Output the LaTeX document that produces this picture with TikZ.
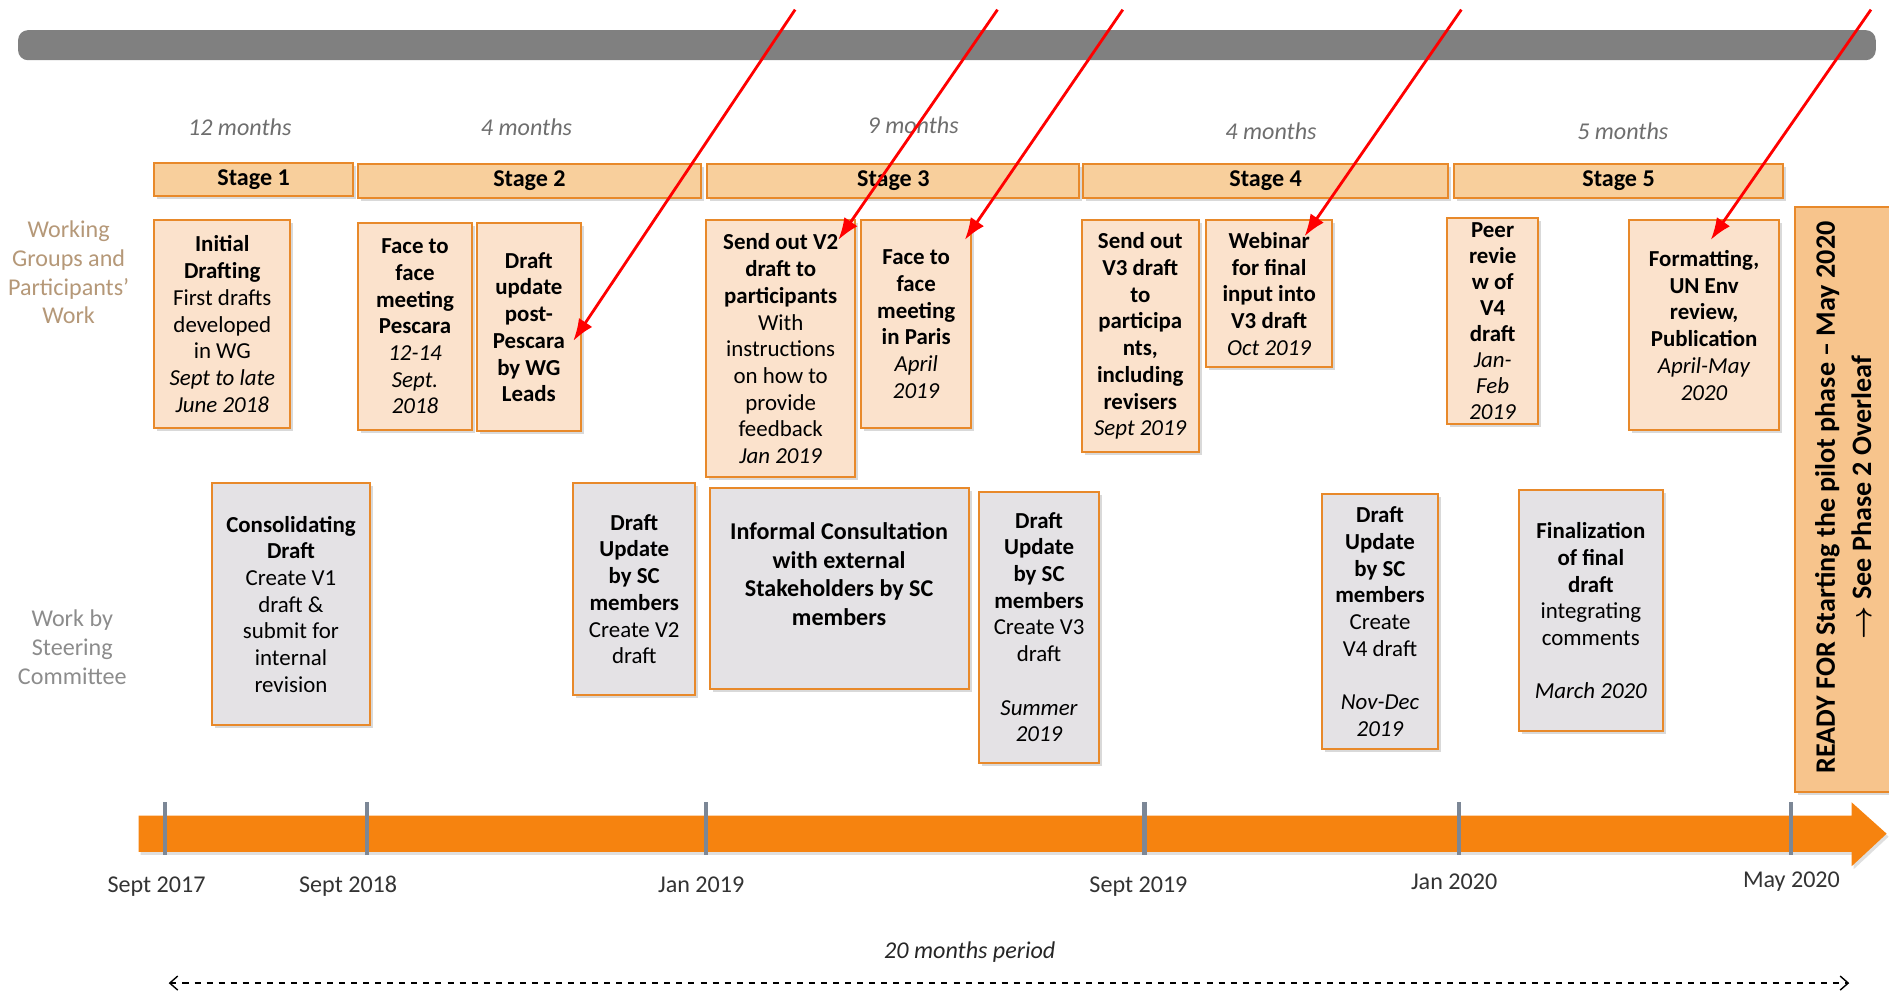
\documentclass[tikz,border=0pt]{standalone}
\usepackage{fontspec}
\setmainfont{Carlito}
\usetikzlibrary{shadows,arrows.meta}
\definecolor{wgfill}{HTML}{FBE2CC}
\definecolor{scfill}{HTML}{E4E2E5}
\definecolor{stagefill}{HTML}{F8CF9C}
\definecolor{readyfill}{HTML}{F7C48C}
\definecolor{boxline}{HTML}{E8892A}
\definecolor{tlorange}{HTML}{F6830F}
\definecolor{tickgrey}{HTML}{7C8796}
\definecolor{bargrey}{HTML}{808080}
\definecolor{wgtext}{HTML}{B59878}
\definecolor{sctext}{HTML}{8C8C8C}
\definecolor{durtext}{HTML}{6E6E6E}

\begin{document}
\begin{tikzpicture}[x=0.6pt,y=-0.6pt,
	area/.style n args={4}{at={({(#1+#3)/2},{(#2+#4)/2})},minimum width={(#3-#1)*0.6pt},minimum height={(#4-#2)*0.6pt}},
	tbox/.style={draw=boxline,line width=1pt,inner sep=0pt,align=center,font=\fontsize{11.4}{13.3}\selectfont,drop shadow={shadow xshift=1.5pt,shadow yshift=-1.5pt,opacity=.3}},
	wgbox/.style={tbox,fill=wgfill},
	scbox/.style={tbox,fill=scfill},
	stagebox/.style={tbox,fill=stagefill,font=\fontsize{12}{14}\selectfont\bfseries},
	redarrow/.style={draw=red,line width=1.4pt,-{Latex[length=11pt,width=8pt]}},
	tickmark/.style={draw=tickgrey,line width=2pt},
	durlabel/.style={text=durtext,font=\fontsize{12}{14}\selectfont\itshape},
	datelabel/.style={text=black!80,font=\fontsize{12}{14}\selectfont}]
	\useasboundingbox (0,0) rectangle (1568,825);
	% top bar
	\fill[bargrey,rounded corners=5pt] (15,25) rectangle (1557,50);
	% durations and stages
	\node[durlabel] (dur1) at (199,106) {12 months};\node[durlabel] (dur2) at (437,106) {4 months};\node[durlabel] (dur3) at (758,104) {9 months};
	\node[durlabel] (dur4) at (1055,109) {4 months};\node[durlabel] (dur5) at (1347,109) {5 months};
	\node[stagebox,area={128}{135}{293}{163}] (stage1) {Stage 1};
	\node[stagebox,area={297}{136}{582}{164}] (stage2) {Stage 2};
	\node[stagebox,area={587}{136}{896}{164}] (stage3) {Stage 3};
	\node[stagebox,area={899}{136}{1202}{164}] (stage4) {Stage 4};
	\node[stagebox,area={1207}{136}{1480}{164}] (stage5) {Stage 5};
	% row labels
	\node[text=wgtext,align=center,font=\fontsize{12}{14.4}\selectfont] (wglabel) at (57,226) {Working\\Groups and\\Participants'\\Work};
	\node[text=sctext,align=center,font=\fontsize{12}{14.4}\selectfont] (sclabel) at (60,537) {Work by\\Steering\\Committee};
	% working groups row
	\node[wgbox,area={128}{183}{241}{355}] (initdraft) {\textbf{Initial}\\\textbf{Drafting}\\First drafts\\developed\\in WG\\\textit{Sept to late}\\\textit{June 2018}};
	\node[wgbox,area={297}{185}{392}{357}] (pescara) {\textbf{Face to}\\\textbf{face}\\\textbf{meeting}\\\textbf{Pescara}\\\textit{12-14}\\\textit{Sept.}\\\textit{2018}};
	\node[wgbox,area={396}{185}{482}{358}] (wgupdate) {\textbf{Draft}\\\textbf{update}\\\textbf{post-}\\\textbf{Pescara}\\\textbf{by WG}\\\textbf{Leads}};
	\node[wgbox,area={586}{183}{710}{396}] (sendvtwo) {\textbf{Send out V2}\\\textbf{draft to}\\\textbf{participants}\\With\\instructions\\on how to\\provide\\feedback\\\textit{Jan 2019}};
	\node[wgbox,area={715}{183}{806}{355}] (paris) {\textbf{Face to}\\\textbf{face}\\\textbf{meeting}\\\textbf{in Paris}\\\textit{April}\\\textit{2019}};
	\node[wgbox,area={898}{183}{995}{375}] (sendvthree) {\textbf{Send out}\\\textbf{V3 draft}\\\textbf{to}\\\textbf{participa}\\\textbf{nts,}\\\textbf{including}\\\textbf{revisers}\\\textit{Sept 2019}};
	\node[wgbox,area={1001}{183}{1106}{305}] (webinar) {\textbf{Webinar}\\\textbf{for final}\\\textbf{input into}\\\textbf{V3 draft}\\\textit{Oct 2019}};
	\node[wgbox,area={1201}{181}{1277}{352},font=\fontsize{11.4}{13}\selectfont] (peerrev) {\textbf{Peer}\\\textbf{revie}\\\textbf{w of}\\\textbf{V4}\\\textbf{draft}\\\textit{Jan-}\\\textit{Feb}\\\textit{2019}};
	\node[wgbox,area={1352}{183}{1477}{357}] (formatting) {\textbf{Formatting,}\\\textbf{UN Env}\\\textbf{review,}\\\textbf{Publication}\\\textit{April-May}\\\textit{2020}};
	% steering committee row
	\node[scbox,area={176}{401}{307}{602}] (consolid) {\textbf{Consolidating}\\\textbf{Draft}\\Create V1\\draft \&\\submit for\\internal\\revision};
	\node[scbox,area={476}{401}{577}{577}] (scvtwo) {\textbf{Draft}\\\textbf{Update}\\\textbf{by SC}\\\textbf{members}\\Create V2\\draft};
	\node[scbox,area={589}{405}{804}{572},font=\fontsize{12}{14.4}\selectfont] (consult) {\textbf{Informal Consultation}\\\textbf{with external}\\\textbf{Stakeholders by SC}\\\textbf{members}\\\mbox{}};
	\node[scbox,area={813}{408}{912}{633}] (scvthree) {\textbf{Draft}\\\textbf{Update}\\\textbf{by SC}\\\textbf{members}\\Create V3\\draft\\[13.3pt]\textit{Summer}\\\textit{2019}};
	\node[scbox,area={1097}{410}{1194}{622}] (scvfour) {\textbf{Draft}\\\textbf{Update}\\\textbf{by SC}\\\textbf{members}\\Create\\V4 draft\\[13.3pt]\textit{Nov-Dec}\\\textit{2019}};
	\node[scbox,area={1261}{407}{1380}{607}] (finalize) {\textbf{Finalization}\\\textbf{of final}\\\textbf{draft}\\integrating\\comments\\[13.3pt]\textit{March 2020}};
	% ready box
	\node[tbox,fill=readyfill,area={1490}{172}{1580}{657}] (ready) {};
	\node[rotate=90,align=center,font=\fontsize{14}{18}\selectfont\bfseries] (readytext) at (1530,413) {READY FOR Starting the pilot phase -- May 2020\\{\boldmath$\rightarrow$} See Phase 2 Overleaf};
	% timeline
	\fill[tlorange,drop shadow={shadow xshift=1pt,shadow yshift=-1.5pt,opacity=.25}] (115,677)--(1537,677)--(1537,666)--(1566,692)--(1537,719)--(1537,707)--(115,707)--cycle;
	\foreach \x in {137,305,586,950,1211,1487} \draw[tickmark] (\x,666)--(\x,710);
	\node[datelabel] (dsepseventeen) at (130,736) {Sept 2017};\node[datelabel] (dsepeighteen) at (289,736) {Sept 2018};\node[datelabel] (djannineteen) at (582,734) {Jan 2019};
	\node[datelabel] (dsepnineteen) at (945,736) {Sept 2019};\node[datelabel] (djantwenty) at (1207,732) {Jan 2020};\node[datelabel] (dmaytwenty) at (1487,732) {May 2020};
	\node[durlabel,text=black!85] (period) at (805,790) {20 months period};
	\coordinate (pstart) at (140,816);\coordinate (pend) at (1535,816);
	\draw[dashed,line width=0.7pt,{Straight Barb[length=4pt,width=7pt]}-{Straight Barb[length=4pt,width=7pt]}] (pstart)--(pend);
	% red arrows
	\coordinate (s1) at (660,8);\coordinate (s2) at (828,8);\coordinate (s3) at (932,8);\coordinate (s4) at (1213,8);\coordinate (s5) at (1553,8);
	\draw[redarrow] (s1)--([shift={(-7,11.5)}]wgupdate.east);
	\draw[redarrow] (s2)--([shift={(-15,17)}]sendvtwo.north east);
	\draw[redarrow] (s3)--([shift={(-6,17)}]paris.north east);
	\draw[redarrow] (s4)--([shift={(-24,14)}]webinar.north east);
	\draw[redarrow] (s5)--([shift={(5.5,17)}]formatting.north);
\end{tikzpicture}
\end{document}
